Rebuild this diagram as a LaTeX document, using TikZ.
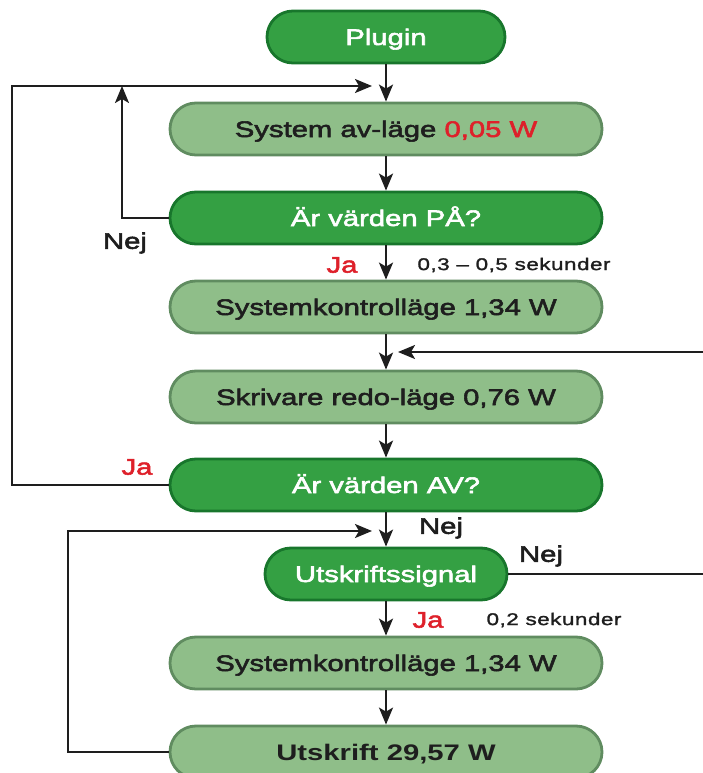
\documentclass[tikz,border=0pt]{standalone}
\usepackage{fontspec}
\setmainfont{Liberation Sans}
\newfontfamily\medf[FakeStretch=1.3,FakeBold=2.5]{Liberation Sans}
\newfontfamily\bldf[FakeStretch=1.3]{Liberation Sans}
\newfontfamily\smallf[FakeStretch=1.32,FakeBold=1.5,LetterSpace=3]{Liberation Sans}
\usetikzlibrary{arrows.meta}
\definecolor{dkg}{RGB}{52,160,67}
\definecolor{dkgB}{RGB}{24,118,44}
\definecolor{ltg}{RGB}{143,190,137}
\definecolor{ltgB}{RGB}{96,140,96}
\definecolor{txt}{RGB}{30,30,30}
\definecolor{redt}{RGB}{222,32,42}
\tikzset{
  box/.style={rounded corners=25.9pt, minimum height=52pt, inner sep=0pt, line width=2.8pt,
    font=\medf\fontsize{22.5}{22.5}\selectfont, text height=16pt, text depth=0pt},
  dark/.style={box, fill=dkg, draw=dkgB, text=white},
  light/.style={box, fill=ltg, draw=ltgB, text=txt},
  wide/.style={minimum width=432pt},
  narrow/.style={minimum width=238pt},
  ln/.style={line width=2.2pt, draw=txt},
  arr/.style={ln, -{Stealth[length=17pt,width=14pt,inset=4pt]}},
  lab/.style={font=\medf\fontsize{22.5}{22.5}\selectfont, text=txt, inner sep=0pt},
  redlab/.style={lab, text=redt},
  small/.style={font=\smallf\fontsize{17}{17}\selectfont, text=txt, inner sep=0pt},
}
\begin{document}
\begin{tikzpicture}[x=1pt,y=-1pt]
\useasboundingbox (0,0) rectangle (703,773);
% nodes
\node[dark, narrow] (plug) at (386,37) {Plugin};
\node[light, wide] (sav) at (386,129) {System av-läge \textcolor{redt}{0,05 W}};
\node[dark, wide] (pa) at (386,218) {Är värden PÅ?};
\node[light, wide] (sk1) at (386,307) {Systemkontrolläge 1,34 W};
\node[light, wide] (red) at (386,397) {Skrivare redo-läge 0,76 W};
\node[dark, wide] (av) at (386,485) {Är värden AV?};
\node[dark, narrow, minimum width=242pt] (sig) at (386,574) {Utskriftssignal};
\node[light, wide] (sk2) at (386,663) {Systemkontrolläge 1,34 W};
\node[light, wide, font=\bldf\bfseries\fontsize{22.5}{22.5}\selectfont] (ut) at (386,752) {Utskrift 29,57 W};
% junction coordinates
\coordinate (j1) at (372,86);
\coordinate (c1) at (122,86);
\coordinate (c1b) at (122,218);
\coordinate (c2a) at (12,485);
\coordinate (c2b) at (12,86);
\coordinate (r1) at (703,352);
\coordinate (r1e) at (398,352);
\coordinate (r2) at (703,574);
\coordinate (j3) at (372,531);
\coordinate (c3a) at (68,752);
\coordinate (c3b) at (68,531);
% vertical connectors
\draw[arr] (plug.south) -- (sav.north);
\draw[arr] (sav.south) -- (pa.north);
\draw[arr] (pa.south) -- (sk1.north);
\draw[arr] (sk1.south) -- (red.north);
\draw[arr] (red.south) -- (av.north);
\draw[arr] (av.south) -- (sig.north);
\draw[arr] (sig.south) -- (sk2.north);
\draw[arr] (sk2.south) -- (ut.north);
% loops
\draw[arr] (pa.west) -- (c1b) -- (c1);
\draw[arr] (av.west) -- (c2a) -- (c2b) -- (j1);
\draw[arr] (r1) -- (r1e);
\draw[ln] (sig.east) -- (r2);
\draw[arr] (ut.west) -- (c3a) -- (c3b) -- (j3);
% labels
\node[lab] (l1) at (125,243) {Nej};
\node[redlab] (l2) at (342,265) {Ja};
\node[small] (l3) at (514,265) {0,3 – 0,5 sekunder};
\node[redlab] (l4) at (137,467) {Ja};
\node[lab] (l5) at (441,528) {Nej};
\node[lab] (l6) at (541,556) {Nej};
\node[redlab] (l7) at (428,620) {Ja};
\node[small] (l8) at (554,620) {0,2 sekunder};
\end{tikzpicture}
\end{document}
